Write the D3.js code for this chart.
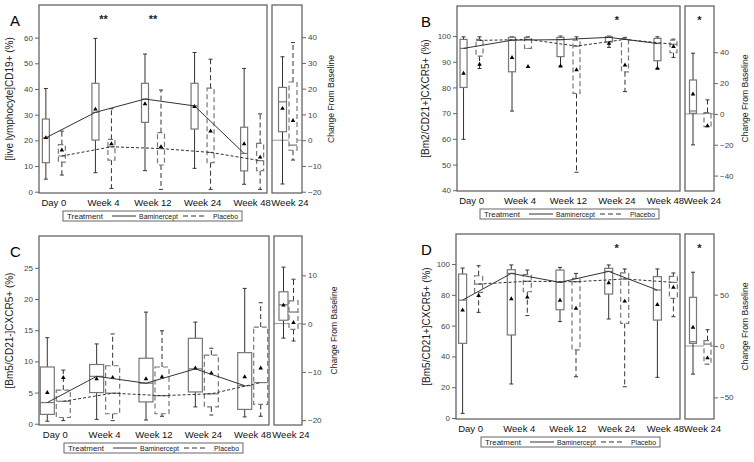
<!DOCTYPE html>
<html>
<head>
<meta charset="utf-8">
<script src="https://cdn.jsdelivr.net/npm/d3@7"></script>
<style>
  body { margin: 0; background: #fff; }
  svg { font-family: "Liberation Sans", Arial, sans-serif; }
</style>
</head>
<body>
<svg id="chart" width="754" height="462"></svg>
<script>
const visits = ['Day 0', 'Week 4', 'Week 12', 'Week 24', 'Week 48'];
const groups = ['Baminercept', 'Placebo'];

// every row: [whisker low, Q1, median, Q3, whisker high, mean]
const aBam = [[4.9, 11.3, 21.0, 28.3, 40.2, 21.0], [7.4, 20.1, 30.9, 42.2, 59.7, 32.1], [8.2, 27.0, 36.1, 42.2, 53.6, 34.2], [9.1, 24.4, 33.4, 42.2, 54.2, 33.1], [2.9, 8.1, 14.9, 25.1, 48.0, 18.6]];
const aPla = [[6.5, 11.5, 13.9, 18.3, 23.6, 16.2], [1.3, 12.3, 17.5, 20.4, 32.3, 18.6], [0.9, 10.4, 16.8, 23.0, 39.6, 17.5], [0.9, 11.3, 15.3, 40.3, 51.6, 23.6], [0.9, 8.2, 12.1, 18.8, 30.3, 13.4]];
const aBamChg = [-17.0, 3.3, 14.9, 20.5, 32.4, 12.3];
const aPlaChg = [-7.7, -3.9, -1.9, 22.6, 37.9, 7.6];

const bBam = [[59.8, 80.0, 95.2, 98.7, 99.7, 85.5], [70.8, 86.1, 98.4, 99.5, 99.7, 91.6], [88.3, 92.0, 98.6, 99.5, 100.0, 88.3], [95.6, 97.7, 99.5, 99.7, 100.0, 97.1], [87.4, 90.4, 97.1, 99.1, 99.7, 87.4]];
const bPla = [[87.4, 92.2, 98.3, 98.7, 99.7, 89.0], [95.2, 95.2, 98.7, 99.5, 99.7, 88.1], [47.0, 77.7, 96.1, 98.4, 99.7, 86.8], [78.4, 86.1, 98.7, 99.1, 99.5, 88.7], [91.7, 93.5, 96.8, 98.4, 98.8, 95.9]];
const bBamChg = [-20.1, 0.4, 1.9, 22.0, 39.4, 12.8];
const bPlaChg = [-8.2, -8.2, 0.4, 0.9, 9.1, -7.8];

const cBam = [[0.4, 1.5, 3.4, 9.1, 13.8, 5.0], [0.7, 5.0, 7.6, 9.5, 12.8, 7.2], [0.6, 3.5, 6.5, 10.5, 17.9, 7.2], [2.7, 5.1, 8.8, 13.7, 16.3, 8.9], [1.1, 2.3, 6.1, 11.4, 21.7, 7.5]];
const cPla = [[0.5, 1.0, 3.6, 5.4, 8.6, 7.4], [0.5, 1.6, 4.9, 9.3, 14.4, 7.4], [1.2, 1.6, 4.5, 9.1, 14.9, 7.5], [1.4, 2.7, 4.8, 11.0, 12.1, 8.1], [1.2, 3.1, 6.6, 15.5, 19.4, 8.9]];
const cBamChg = [-3.0, 0.7, 3.9, 6.6, 11.7, 3.8];
const cPlaChg = [-3.6, -1.2, 2.4, 4.7, 9.2, 0.2];

const dBam = [[3.0, 48.5, 76.6, 93.5, 97.4, 70.1], [22.1, 53.9, 93.9, 96.3, 99.4, 77.3], [62.6, 70.3, 88.1, 96.1, 97.8, 76.4], [64.3, 80.5, 95.2, 97.2, 99.4, 87.7], [26.4, 63.6, 83.1, 91.8, 96.8, 73.6]];
const dPla = [[68.6, 81.6, 87.0, 92.4, 98.9, 79.4], [66.5, 82.0, 88.8, 93.1, 96.1, 78.4], [26.8, 44.2, 88.5, 90.7, 93.9, 71.2], [20.3, 61.5, 90.3, 94.2, 96.8, 75.8], [65.8, 77.7, 88.1, 92.0, 94.2, 84.8]];
const dBamChg = [-27.3, 2.6, 4.2, 47.4, 71.8, 18.2];
const dPlaChg = [-17.5, -17.5, 1.9, 5.2, 15.9, -11.7];

const yLabels = ['[live lymphocyte]CD19+ (%)', '[Bm2/CD21+]CXCR5+ (%)', '[Bm5/CD21-]CXCR5+ (%)', '[Bm5/CD21+]CXCR5+ (%)'];
const leftTicks = [[0, 10, 20, 30, 40, 50, 60], [40, 50, 60, 70, 80, 90, 100], [0, 5, 10, 15, 20, 25], [0, 20, 40, 60, 80, 100]];
const rightTicks = [[-20, -10, 0, 10, 20, 30, 40], [-40, -20, 0, 20, 40], [-20, -10, 0, 10], [-50, 0, 50]];
const stars = [[['Week 4', '**'], ['Week 12', '**']], [['Week 24', '*'], ['chg', '*']], [], [['Week 24', '*'], ['chg', '*']]];

const panels = [
  {id: 'A', bam: aBam, pla: aPla, bamChg: aBamChg, plaChg: aPlaChg, lx: 10, fx0: 39, fx1: 267, sx0: 272, sx1: 302, fy0: 5, fy1: 193,
   yl: [-0.5, 72.7], yr: [-20.5, 52.5], pad: 0.3, bw: 7, cw: 8, co: [-4.5, 6], ylx: 10, crx: 330, lgx: 63},
  {id: 'B', bam: bBam, pla: bPla, bamChg: bBamChg, plaChg: bPlaChg, lx: 421, fx0: 457, fx1: 680, sx0: 685, sx1: 714, fy0: 6, fy1: 191,
   yl: [39.7, 111.7], yr: [-50, 70], pad: 0.3, bw: 7, cw: 7, co: [-6.5, 8], ylx: 426, crx: 744, lgx: 480},
  {id: 'C', bam: cBam, pla: cPla, bamChg: cBamChg, plaChg: cPlaChg, lx: 10, fx0: 39, fx1: 269, sx0: 274, sx1: 302, fy0: 236, fy1: 425,
   yl: [-0.2, 30.1], yr: [-21, 18.15], pad: 0.33, bw: 14, cw: 9, co: [-4.5, 5.5], ylx: 10, crx: 333, lgx: 64},
  {id: 'D', bam: dBam, pla: dPla, bamChg: dBamChg, plaChg: dPlaChg, lx: 421, fx0: 456, fx1: 680, sx0: 685, sx1: 714, fy0: 234, fy1: 419,
   yl: [-0.65, 119.5], yr: [-71, 109], pad: 0.3, bw: 8, cw: 7, co: [-6.5, 8], ylx: 427, crx: 744, lgx: 481}
];

const svg = d3.select('#chart');
const frameCol = '#666', lineCol = '#333', boxCol = '#777';

function drawBox(g, cx, w, s, y, dashed) {
  let [lo, q1, med, q3, hi, mean] = s;
  let dash = dashed ? '5,3' : null;
  let cap = 2;
  g.append('line').attr('x1', cx).attr('x2', cx).attr('y1', y(q3)).attr('y2', y(hi))
    .attr('stroke', lineCol).attr('stroke-dasharray', dash);
  g.append('line').attr('x1', cx).attr('x2', cx).attr('y1', y(q1)).attr('y2', y(lo))
    .attr('stroke', lineCol).attr('stroke-dasharray', dash);
  [lo, hi].forEach(function(v) {
    g.append('line').attr('x1', cx - cap).attr('x2', cx + cap).attr('y1', y(v)).attr('y2', y(v))
      .attr('stroke', lineCol);
  });
  g.append('rect').attr('x', cx - w / 2).attr('width', w)
    .attr('y', y(q3)).attr('height', Math.max(y(q1) - y(q3), 0.5))
    .attr('fill', '#fff').attr('stroke', boxCol).attr('stroke-width', 1.2)
    .attr('stroke-dasharray', dash);
  g.append('line').attr('x1', cx - w / 2).attr('x2', cx + w / 2).attr('y1', y(med)).attr('y2', y(med))
    .attr('stroke', boxCol).attr('stroke-width', 1.2);
  g.append('path').attr('d', d3.symbol(d3.symbolTriangle, 9)())
    .attr('transform', `translate(${cx},${y(mean)})`).attr('fill', '#000');
}

panels.forEach(function(p, pi) {
  let g = svg.append('g');
  let x = d3.scalePoint().domain(visits).range([p.fx0, p.fx1]).padding(p.pad);
  let off = d3.scalePoint().domain(groups).range([-8, 8]);
  let xc = d3.scalePoint().domain(['Week 24']).range([p.sx0, p.sx1]).padding(0.5);
  let offc = d3.scalePoint().domain(groups).range(p.co);
  let yL = d3.scaleLinear().domain(p.yl).range([p.fy1, p.fy0]);
  let yR = d3.scaleLinear().domain(p.yr).range([p.fy1, p.fy0]);

  // zero reference in the change panel
  g.append('line').attr('x1', p.sx0).attr('x2', p.sx1).attr('y1', yR(0)).attr('y2', yR(0))
    .attr('stroke', '#999');

  // boxes
  visits.forEach(function(v, i) {
    drawBox(g, x(v) + off('Baminercept'), p.bw, p.bam[i], yL, false);
    drawBox(g, x(v) + off('Placebo'), p.bw, p.pla[i], yL, true);
  });
  drawBox(g, xc('Week 24') + offc('Baminercept'), p.cw, p.bamChg, yR, false);
  drawBox(g, xc('Week 24') + offc('Placebo'), p.cw, p.plaChg, yR, true);

  // median lines
  let line = d3.line();
  g.append('path')
    .attr('d', line(visits.map((v, i) => [x(v) + off('Baminercept'), yL(p.bam[i][2])])))
    .attr('fill', 'none').attr('stroke', lineCol).attr('stroke-width', 1);
  g.append('path')
    .attr('d', line(visits.map((v, i) => [x(v) + off('Placebo'), yL(p.pla[i][2])])))
    .attr('fill', 'none').attr('stroke', lineCol).attr('stroke-width', 1).attr('stroke-dasharray', '3,2');

  // frames
  g.append('rect').attr('x', p.fx0).attr('y', p.fy0).attr('width', p.fx1 - p.fx0).attr('height', p.fy1 - p.fy0)
    .attr('fill', 'none').attr('stroke', frameCol).attr('stroke-width', 1.3);
  g.append('rect').attr('x', p.sx0).attr('y', p.fy0).attr('width', p.sx1 - p.sx0).attr('height', p.fy1 - p.fy0)
    .attr('fill', 'none').attr('stroke', frameCol).attr('stroke-width', 1.3);

  // axes
  let ax = g.append('g').attr('transform', `translate(${p.fx0},0)`)
    .call(d3.axisLeft(yL).tickValues(leftTicks[pi]).tickSize(4).tickPadding(2));
  let ar = g.append('g').attr('transform', `translate(${p.sx1},0)`)
    .call(d3.axisRight(yR).tickValues(rightTicks[pi]).tickSize(4).tickPadding(2));
  [ax, ar].forEach(function(a) {
    a.select('.domain').remove();
    a.selectAll('.tick line').attr('stroke', frameCol);
    a.selectAll('.tick text').attr('fill', '#444').style('font-size', '8px')
      .style('font-family', '"Liberation Sans", Arial, sans-serif');
  });

  // x labels
  visits.forEach(function(v) {
    g.append('text').attr('x', x(v)).attr('y', p.fy1 + 13).attr('text-anchor', 'middle')
      .style('font-size', '9.5px').attr('fill', '#111').text(v);
  });
  g.append('text').attr('x', xc('Week 24') + 3).attr('y', p.fy1 + 13).attr('text-anchor', 'middle')
    .style('font-size', '9.5px').attr('fill', '#111').text('Week 24');

  // axis titles
  let midY = (p.fy0 + p.fy1) / 2;
  g.append('text').attr('transform', `translate(${p.ylx + 3},${midY}) rotate(-90)`)
    .attr('text-anchor', 'middle').style('font-size', '10px').attr('fill', '#222').text(yLabels[pi]);
  g.append('text').attr('transform', `translate(${p.crx + 4},${midY}) rotate(-90)`)
    .attr('text-anchor', 'middle').style('font-size', '8.6px').attr('fill', '#222').text('Change From Baseline');

  // panel letter
  g.append('text').attr('x', p.lx).attr('y', p.fy0 + 21).style('font-size', '15px').attr('fill', '#000').text(p.id);

  // significance marks
  stars[pi].forEach(function(s) {
    let sx = s[0] === 'chg' ? xc('Week 24') : x(s[0]);
    g.append('text').attr('x', sx).attr('y', p.fy0 + 18).attr('text-anchor', 'middle')
      .style('font-size', '11px').style('font-weight', 'bold').attr('fill', '#222').text(s[1]);
  });

  // legend
  let ly = p.fy1 + 18;
  let lg = g.append('g').attr('transform', `translate(${p.lgx},${ly})`);
  lg.append('rect').attr('width', 179).attr('height', 10).attr('fill', 'none').attr('stroke', frameCol);
  lg.append('text').attr('x', 4).attr('y', 8.2).style('font-size', '8px').attr('fill', '#222')
    .attr('textLength', 36).attr('lengthAdjust', 'spacingAndGlyphs').text('Treatment');
  lg.append('line').attr('x1', 49).attr('x2', 73).attr('y1', 5).attr('y2', 5).attr('stroke', lineCol);
  lg.append('text').attr('x', 76).attr('y', 8.2).style('font-size', '8px').attr('fill', '#222')
    .attr('textLength', 39).attr('lengthAdjust', 'spacingAndGlyphs').text(groups[0]);
  lg.append('line').attr('x1', 120).attr('x2', 141).attr('y1', 5).attr('y2', 5).attr('stroke', lineCol)
    .attr('stroke-dasharray', '5,3');
  lg.append('text').attr('x', 150).attr('y', 8.2).style('font-size', '8px').attr('fill', '#222')
    .attr('textLength', 25).attr('lengthAdjust', 'spacingAndGlyphs').text(groups[1]);
});
</script>
</body>
</html>
